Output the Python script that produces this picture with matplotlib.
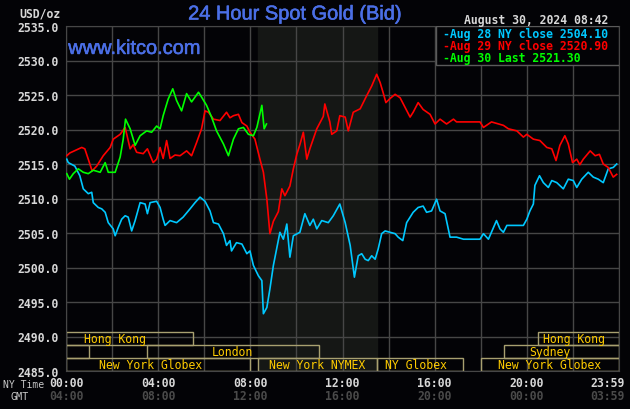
import matplotlib
matplotlib.use('Agg')
import matplotlib.pyplot as plt
import matplotlib.patheffects as pe
from matplotlib.patches import Rectangle

# minutes after 00:00 NY time, spot bid in USD/oz
aug28_min = [2, 6, 23, 36, 45, 58, 67, 71, 84, 93, 102, 110, 123, 128, 136, 145, 154, 162, 171, 180,
             193, 206, 212, 219, 236, 245, 253, 258, 271, 288, 305, 323, 336, 349, 362, 375, 384, 397,
             410, 418, 427, 431, 444, 458, 471, 479, 488, 501, 510, 514, 523, 531, 540, 557, 566, 575,
             583, 592, 609, 622, 635, 644, 653, 666, 683, 696, 713, 727, 740, 751, 761, 770, 779, 787,
             796, 805, 813, 822, 831, 844, 857, 865, 877, 887, 904, 917, 930, 939, 952, 965, 974, 987,
             1000, 1017, 1035, 1078, 1087, 1100, 1121, 1130, 1139, 1148, 1174, 1191, 1200, 1208, 1217,
             1221, 1233, 1243, 1256, 1265, 1278, 1295, 1308, 1321, 1330, 1343, 1360, 1373, 1386, 1399,
             1412, 1425, 1434]
aug28_val = [2515.7, 2515.2, 2514.7, 2513.3, 2511.4, 2510.7, 2510.9, 2509.4, 2508.7, 2508.5, 2508.0,
             2506.5, 2505.6, 2504.6, 2505.8, 2507.0, 2507.5, 2507.3, 2505.3, 2506.8, 2509.4, 2509.2,
             2507.8, 2509.4, 2509.6, 2508.7, 2507.0, 2506.1, 2506.8, 2506.5, 2507.3, 2508.5, 2509.4,
             2510.2, 2509.6, 2508.2, 2506.5, 2506.3, 2504.9, 2503.2, 2503.9, 2502.4, 2503.6, 2503.4,
             2502.0, 2502.4, 2500.3, 2498.8, 2498.1, 2493.3, 2494.2, 2496.9, 2500.3, 2505.1, 2504.1,
             2506.3, 2501.5, 2504.6, 2505.1, 2507.8, 2506.1, 2507.0, 2505.6, 2506.8, 2506.5, 2507.5,
             2509.2, 2506.5, 2503.2, 2498.6, 2501.7, 2502.0, 2501.2, 2501.0, 2501.7, 2501.2, 2502.7,
             2504.9, 2505.3, 2505.1, 2504.9, 2504.4, 2503.9, 2506.5, 2508.0, 2508.7, 2508.9, 2508.0,
             2508.2, 2509.9, 2508.2, 2507.8, 2504.4, 2504.4, 2504.1, 2504.1, 2504.9, 2504.1, 2506.8,
             2505.6, 2505.1, 2506.1, 2506.1, 2506.1, 2507.0, 2508.2, 2509.2, 2511.9, 2513.3, 2512.3,
             2511.6, 2512.6, 2512.3, 2511.4, 2512.8, 2512.6, 2511.6, 2512.8, 2513.8, 2513.1, 2512.8,
             2512.3, 2514.3, 2514.5, 2515.0]

aug29_min = [2, 10, 41, 49, 58, 68, 80, 97, 115, 123, 141, 154, 167, 175, 184, 201, 212, 227, 236, 245,
             253, 262, 271, 284, 297, 314, 327, 340, 353, 362, 371, 384, 401, 418, 427, 436, 449, 458,
             471, 479, 492, 505, 514, 523, 531, 540, 553, 562, 570, 583, 592, 601, 609, 618, 627, 635,
             653, 670, 674, 687, 692, 705, 713, 727, 735, 748, 766, 783, 796, 809, 818, 826, 833, 844,
             857, 870, 883, 896, 904, 917, 930, 948, 961, 974, 991, 1009, 1017, 1078, 1087, 1108, 1139,
             1152, 1174, 1191, 1200, 1217, 1234, 1252, 1265, 1276, 1286, 1299, 1308, 1319, 1330, 1338,
             1347, 1365, 1378, 1389, 1399, 1412, 1425, 1434]
aug29_val = [2516.2, 2516.6, 2517.4, 2517.2, 2515.7, 2514.0, 2514.7, 2516.2, 2517.4, 2518.6, 2519.3,
             2520.3, 2517.2, 2517.8, 2516.7, 2516.5, 2517.2, 2515.2, 2515.7, 2517.4, 2515.8, 2518.4,
             2515.8, 2516.3, 2516.2, 2516.9, 2516.2, 2518.1, 2520.1, 2522.7, 2522.5, 2521.5, 2521.3,
             2522.5, 2521.7, 2522.0, 2522.2, 2521.0, 2520.5, 2519.6, 2518.6, 2515.7, 2513.8, 2509.9,
             2504.9, 2506.7, 2508.1, 2511.4, 2510.4, 2511.8, 2514.3, 2516.4, 2517.8, 2519.6, 2515.7,
             2517.2, 2520.1, 2521.9, 2523.7, 2521.1, 2519.3, 2519.8, 2522.0, 2521.8, 2519.8, 2522.5,
             2523.0, 2524.9, 2526.3, 2528.0, 2526.8, 2525.3, 2523.9, 2524.5, 2525.1, 2524.6, 2523.2,
             2521.8, 2522.5, 2523.9, 2522.9, 2522.2, 2520.8, 2521.5, 2520.8, 2521.5, 2521.1, 2521.1,
             2520.3, 2521.1, 2520.6, 2520.1, 2519.8, 2518.9, 2519.3, 2518.6, 2518.4, 2517.4, 2517.2,
             2515.5, 2517.7, 2519.1, 2517.9, 2515.2, 2515.7, 2514.9, 2515.7, 2516.9, 2516.2, 2516.4,
             2515.0, 2514.5, 2513.1, 2513.5]

aug30_min = [2, 9, 19, 32, 45, 58, 71, 89, 102, 110, 128, 141, 149, 155, 167, 180, 193, 210, 223, 236,
             245, 253, 266, 278, 288, 301, 314, 327, 345, 353, 366, 379, 392, 410, 423, 436, 449, 462,
             475, 488, 497, 510, 516, 522]
aug30_val = [2513.6, 2512.8, 2513.6, 2514.3, 2513.8, 2513.6, 2514.1, 2513.8, 2515.2, 2513.8, 2513.8,
             2516.0, 2518.6, 2521.5, 2520.1, 2517.7, 2519.1, 2519.8, 2519.6, 2520.5, 2520.1, 2522.0,
             2524.4, 2525.9, 2524.2, 2522.7, 2525.2, 2524.0, 2525.4, 2524.7, 2523.5, 2521.8, 2519.8,
             2517.9, 2516.2, 2518.6, 2520.1, 2520.3, 2519.3, 2519.1, 2520.3, 2523.5, 2520.1, 2520.8]

legend_labels = ['-Aug 28 NY close 2504.10', '-Aug 29 NY close 2520.90', '-Aug 30 Last 2521.30']
colors = ['#00c8ff', '#ff0000', '#00ff00']

ny_ticks = [0, 4, 8, 12, 16, 20, 24]
ny_labels = ['00:00', '04:00', '08:00', '12:00', '16:00', '20:00', '23:59']
gmt_labels = ['04:00', '08:00', '12:00', '16:00', '20:00', '00:00', '03:59']

# market sessions: name, start hour, end hour, row (0 = bottom), label centre hour
sessions = [
    ('New York Globex', 0, 8, 0, 3.67),
    ('New York NYMEX', 8 + 20 / 60, 13.5, 0, 10.9),
    ('NY Globex', 13.5, 17.25, 0, 15.2),
    ('New York Globex', 18, 24, 0, 21.0),
    ('', 0, 1, 1, 0.5),
    ('London', 3.5, 11, 1, 7.2),
    ('Sydney', 19, 24, 1, 21.0),
    ('Hong Kong', 0, 5.5, 2, 2.13),
    ('Hong Kong', 20.5, 24, 2, 22.05),
]
nymex_open, nymex_close = 8 + 20 / 60, 13.5

mono = 'DejaVu Sans Mono'
fs = 8.3
bg = '#030306'
grid_c = '#464646'
blue = '#4b6fe6'

fig = plt.figure(figsize=(6.3, 4.1), dpi=100, facecolor=bg)
ax = fig.add_axes([66 / 630, 1 - 372 / 410, 553 / 630, 345 / 410])
ax.set_facecolor(bg)
ax.set_xlim(0, 24)
ax.set_ylim(2485, 2535)

ax.axvspan(nymex_open, nymex_close, color='#151715', zorder=0)
ax.set_xticks(range(0, 25, 2))
ax.set_yticks(range(2485, 2536, 5))
ax.grid(True, color=grid_c, lw=1.0, zorder=1)
ax.tick_params(length=0, labelbottom=False, pad=5)
ax.set_yticklabels(['%.1f' % v for v in range(2485, 2536, 5)], family=mono, fontsize=fs,
                   color='#d8d8d8', weight='bold')
for s in ax.spines.values():
    s.set_color(grid_c)

series = [(aug28_min, aug28_val), (aug29_min, aug29_val), (aug30_min, aug30_val)]
for (m, v), c in zip(series, colors):
    ax.plot([t / 60 for t in m], v, color=c, lw=1.2, zorder=3)

# session boxes
row_h = 1.9
for name, start, end, row, lab in sessions:
    y0 = 2485 + row * row_h
    ax.add_patch(Rectangle((start, y0), end - start, row_h, fill=False, ec='#a8a070',
                           lw=1.0, zorder=2, clip_on=True))
    if name:
        ax.text(lab, y0 + row_h / 2, name, family=mono, fontsize=fs, color='#ffcc00',
                ha='center', va='center', zorder=4)

# legend box
ax.add_patch(Rectangle((0.6686, 0.886), 0.3314, 0.114, transform=ax.transAxes,
                       fc=bg, ec='#5a5a5a', lw=1.0, zorder=5))
for i, (lab, c) in enumerate(zip(legend_labels, colors)):
    ax.text(0.6817, 0.9777 - i * 0.0347, lab, transform=ax.transAxes, family=mono,
            fontsize=fs, color=c, ha='left', va='center', zorder=6, weight='bold')

thick = [pe.withStroke(linewidth=0.4, foreground=blue)]
ax.text(0.004, 0.935, 'www.kitco.com', transform=ax.transAxes, family='Liberation Sans',
        fontsize=14.4, color=blue, ha='left', va='center', zorder=6, path_effects=thick)

# time axis labels
xt = ax.get_xaxis_transform()
for h, ny, gmt in zip(ny_ticks, ny_labels, gmt_labels):
    dx = -8 if h == 24 else 0
    ax.annotate(ny, (h, -0.0328), xycoords=xt, xytext=(dx, 0), textcoords='offset points',
                family=mono, fontsize=fs, color='#d8d8d8', ha='center', va='center',
                weight='bold')
    ax.annotate(gmt, (h, -0.0716), xycoords=xt, xytext=(dx, 0), textcoords='offset points',
                family=mono, fontsize=fs, color='#4a4a4a', ha='center', va='center',
                weight='bold')
fig.text(0.0043, 1 - 384.8 / 410, 'NY Time', family=mono, fontsize=7.0, color='#c8c8c8',
         ha='left', va='center')
fig.text(19.2 / 630, 1 - 397.5 / 410, 'GMT', family=mono, fontsize=7.3, color='#c8c8c8',
         ha='center', va='center')

fig.text(61 / 630, 1 - 13.7 / 410, 'USD/oz', family=mono, fontsize=fs, color='#d8d8d8',
         ha='right', va='center', weight='bold')
fig.text(294.7 / 630, 1 - 15 / 410, '24 Hour Spot Gold (Bid)', family='Liberation Sans',
         fontsize=14.4, color=blue, ha='center', va='center', path_effects=thick)
fig.text(608.3 / 630, 1 - 20.7 / 410, 'August 30, 2024 08:42', family=mono, fontsize=fs,
         color='#d8d8d8', ha='right', va='center', weight='bold')

fig.savefig('out.png', dpi=100, facecolor=bg)
